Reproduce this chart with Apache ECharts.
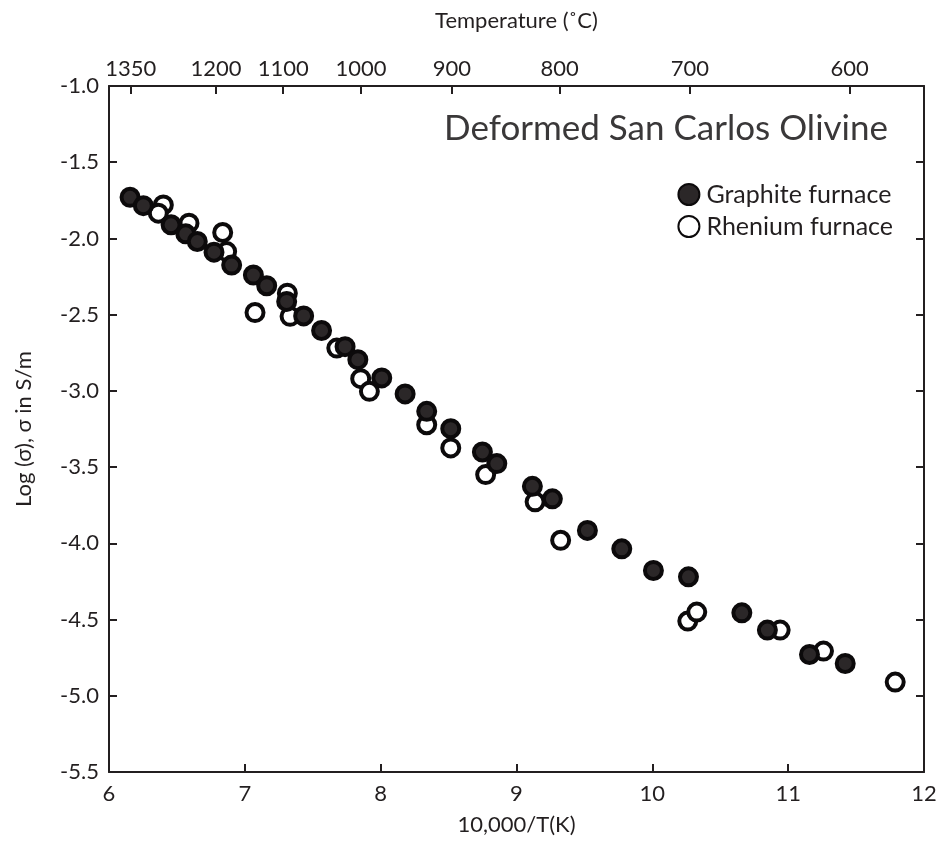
<!DOCTYPE html>
<html>
<head>
<meta charset="utf-8">
<script src="https://cdn.jsdelivr.net/npm/echarts@6/dist/echarts.min.js"></script>
<style>
html,body{margin:0;padding:0;background:#fff;}
#chart{width:943px;height:842px;}
</style>
</head>
<body>
<div id="chart"></div>
<script>
// Graphite furnace: [10,000/T(K), log sigma]
var graphiteData = [
  [6.155,-1.73],[6.253,-1.785],[6.457,-1.91],[6.565,-1.97],[6.65,-2.02],[6.773,-2.09],
  [6.903,-2.175],[7.063,-2.24],[7.161,-2.31],[7.308,-2.413],[7.433,-2.508],[7.565,-2.604],
  [7.738,-2.71],[7.832,-2.795],[8.008,-2.915],[8.18,-3.02],[8.339,-3.134],[8.516,-3.248],
  [8.749,-3.401],[8.855,-3.477],[9.117,-3.626],[9.264,-3.708],[9.522,-3.915],[9.775,-4.036],
  [10.008,-4.178],[10.266,-4.22],[10.659,-4.456],[10.847,-4.569],[11.157,-4.729],[11.42,-4.788]
];
// Rhenium furnace
var rheniumData = [
  [6.40,-1.78],[6.363,-1.834],[6.589,-1.90],[6.837,-1.961],[6.866,-2.086],[7.075,-2.486],
  [7.313,-2.359],[7.333,-2.511],[7.677,-2.719],[7.853,-2.92],[7.917,-3.003],[8.339,-3.222],
  [8.516,-3.374],[8.773,-3.549],[9.137,-3.728],[9.325,-3.98],[10.261,-4.51],[10.327,-4.451],
  [10.941,-4.569],[11.26,-4.707],[11.788,-4.91]
];
// Top axis temperature tick labels (°C)
var tempLabels = [1350,1200,1100,1000,900,800,700,600];
var tempPositions = tempLabels.map(function(t){ return 10000/(t+273.15); });

var FONT = 'Lato';
var INK = '#231f20';
var chart = echarts.init(document.getElementById('chart'));
var axisLine = {show:true, onZero:false, lineStyle:{color:INK, width:2}};
var tick = {show:true, inside:true, length:8, lineStyle:{color:INK, width:2}};
chart.setOption({
  animation:false,
  backgroundColor:'#fff',
  title:{
    text:'Deformed San Carlos Olivine',
    right:50, top:106,
    textStyle:{fontFamily:FONT, fontSize:35, fontWeight:'normal', color:'#3a3839'}
  },
  legend:{
    orient:'vertical', right:45, top:177, itemGap:7,
    itemWidth:21, itemHeight:21, icon:'circle',
    data:['Graphite furnace','Rhenium furnace'],
    textStyle:{fontFamily:FONT, fontSize:25, color:INK, padding:[0,0,0,2]}
  },
  grid:{left:109, right:19, top:86, bottom:70},
  xAxis:[{
    type:'value', position:'bottom', min:6, max:12, interval:1,
    name:'10,000/T(K)', nameLocation:'middle', nameGap:42, nameMoveOverlap:false,
    nameTextStyle:{fontFamily:FONT, fontSize:22, color:INK, verticalAlign:'top'},
    axisLine:axisLine, axisTick:tick, splitLine:{show:false},
    axisLabel:{fontFamily:FONT, fontSize:22, color:INK, margin:11}
  },{
    type:'value', position:'top', min:6, max:12,
    name:'Temperature (˚C)', nameLocation:'middle', nameGap:54, nameMoveOverlap:false,
    nameTextStyle:{fontFamily:FONT, fontSize:22, color:INK},
    axisLine:axisLine,
    axisTick:{show:true, inside:true, length:8, lineStyle:{color:INK,width:2}, customValues:tempPositions},
    splitLine:{show:false},
    axisLabel:{fontFamily:FONT, fontSize:22, color:INK, margin:6, customValues:tempPositions,
      formatter:function(v){ return String(Math.round((10000/v - 273.15)/50)*50); }}
  }],
  yAxis:[{
    type:'value', position:'left', min:-5.5, max:-1.0, interval:0.5,
    name:'Log (σ), σ in S/m', nameLocation:'middle', nameGap:74, nameRotate:90, nameMoveOverlap:false,
    nameTextStyle:{fontFamily:FONT, fontSize:22, color:INK},
    axisLine:axisLine, axisTick:tick, splitLine:{show:false},
    axisLabel:{fontFamily:FONT, fontSize:22, color:INK, margin:10,
      formatter:function(v){ return v.toFixed(1); }}
  },{
    type:'value', position:'right', min:-5.5, max:-1.0, interval:0.5,
    axisLine:axisLine, axisTick:tick, splitLine:{show:false},
    axisLabel:{show:false}
  }],
  series:[{
    name:'Rhenium furnace', type:'scatter', data:rheniumData, symbolSize:17,
    itemStyle:{color:'#ffffff', borderColor:'#0c0a0b', borderWidth:4, opacity:1}
  },{
    name:'Graphite furnace', type:'scatter', data:graphiteData, symbolSize:17,
    itemStyle:{color:'#2b2728', borderColor:'#0c0a0b', borderWidth:4, opacity:1}
  }]
});
</script>
</body>
</html>
